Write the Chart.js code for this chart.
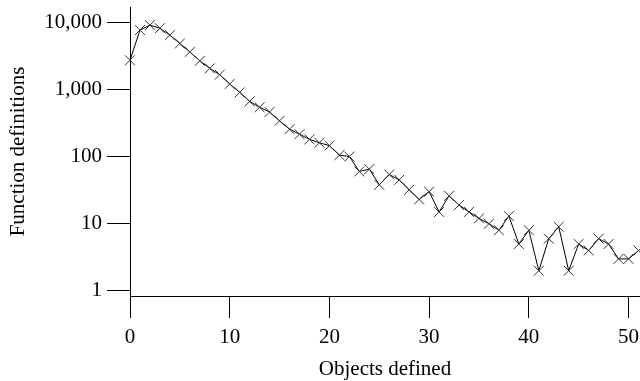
<!DOCTYPE html>
<html>
<head>
<meta charset="utf-8">
<script src="https://cdn.jsdelivr.net/npm/chart.js@4"></script>
<style>
  html, body { margin: 0; padding: 0; background: #fff; }
  #wrap { width: 640px; height: 381px; }
</style>
</head>
<body>
<div id="wrap"><canvas id="myChart" width="640" height="381"></canvas></div>
<script>
// objects defined (x) and number of function definitions (y, log scale)
const objectsDefined = [0, 1, 2, 3, 4, 5, 6, 7, 8, 9, 10, 11, 12, 13, 14, 15, 16, 17, 18, 19, 20,
  21, 22, 23, 24, 25, 26, 27, 28, 29, 30, 31, 32, 33, 34, 35, 36, 37, 38, 39, 40,
  41, 42, 43, 44, 45, 46, 47, 48, 49, 50, 51];
const functionDefs = [2700, 7600, 9000, 8100, 6400, 4800, 3600, 2650, 2050, 1650, 1200,
  900, 660, 540, 460, 340, 255, 215, 180, 160, 145,
  105, 100, 60, 65, 38, 54, 45, 32, 23, 30,
  15, 26, 19, 15, 12, 10, 8, 13, 5, 8,
  2, 6, 9, 2, 5, 4, 6, 5, 3, 3, 4];
const xTicks = [0, 10, 20, 30, 40, 50];
const yTicks = [1, 10, 100, 1000, 10000];

const serif = { family: '"Liberation Serif", "Times New Roman", serif', size: 21 };

const points = objectsDefined.map((x, i) => ({ x: x, y: functionDefs[i] }));

const data = {
  datasets: [{
    label: 'Function definitions',
    data: points,
    borderColor: '#000',
    backgroundColor: '#000',
    borderWidth: 1,
    pointStyle: 'crossRot',
    pointRadius: 7,
    pointBorderWidth: 1,
    pointBorderColor: '#333',
    tension: 0,
    clip: false
  }]
};

// config
const config = {
  type: 'line',
  data,
  options: {
    responsive: false,
    animation: false,
    layout: { autoPadding: false, padding: { left: 0, right: 0, top: 7, bottom: 0 } },
    plugins: { legend: { display: false }, tooltip: { enabled: false } },
    scales: {
      x: {
        type: 'linear',
        min: 0,
        max: 51.15,
        afterBuildTicks: s => { s.ticks = xTicks.map(v => ({ value: v })); },
        afterFit: s => { s.height = 85; s.paddingLeft = 0; s.paddingRight = 0; },
        grid: { drawOnChartArea: false, color: '#000', tickLength: 22, lineWidth: 1 },
        border: { color: '#000', width: 1 },
        ticks: { color: '#000', font: serif, padding: 7, maxRotation: 0 },
        title: { display: true, text: 'Objects defined', color: '#000', font: serif, padding: { top: 0, bottom: -1 } }
      },
      y: {
        type: 'logarithmic',
        min: 0.842,
        max: 16750,
        afterBuildTicks: s => { s.ticks = yTicks.map(v => ({ value: v })); },
        afterFit: s => { s.width = 130; s.paddingTop = 0; s.paddingBottom = 0; },
        grid: { drawOnChartArea: false, color: '#000', tickLength: 23, lineWidth: 1 },
        border: { color: '#000', width: 1 },
        ticks: { color: '#000', font: serif, padding: 5, callback: v => v.toLocaleString('en-US') },
        title: { display: true, text: 'Function definitions', color: '#000', font: serif, padding: { top: 6, bottom: 0 } }
      }
    }
  }
};

// render init block
const myChart = new Chart(document.getElementById('myChart'), config);
</script>
</body>
</html>
